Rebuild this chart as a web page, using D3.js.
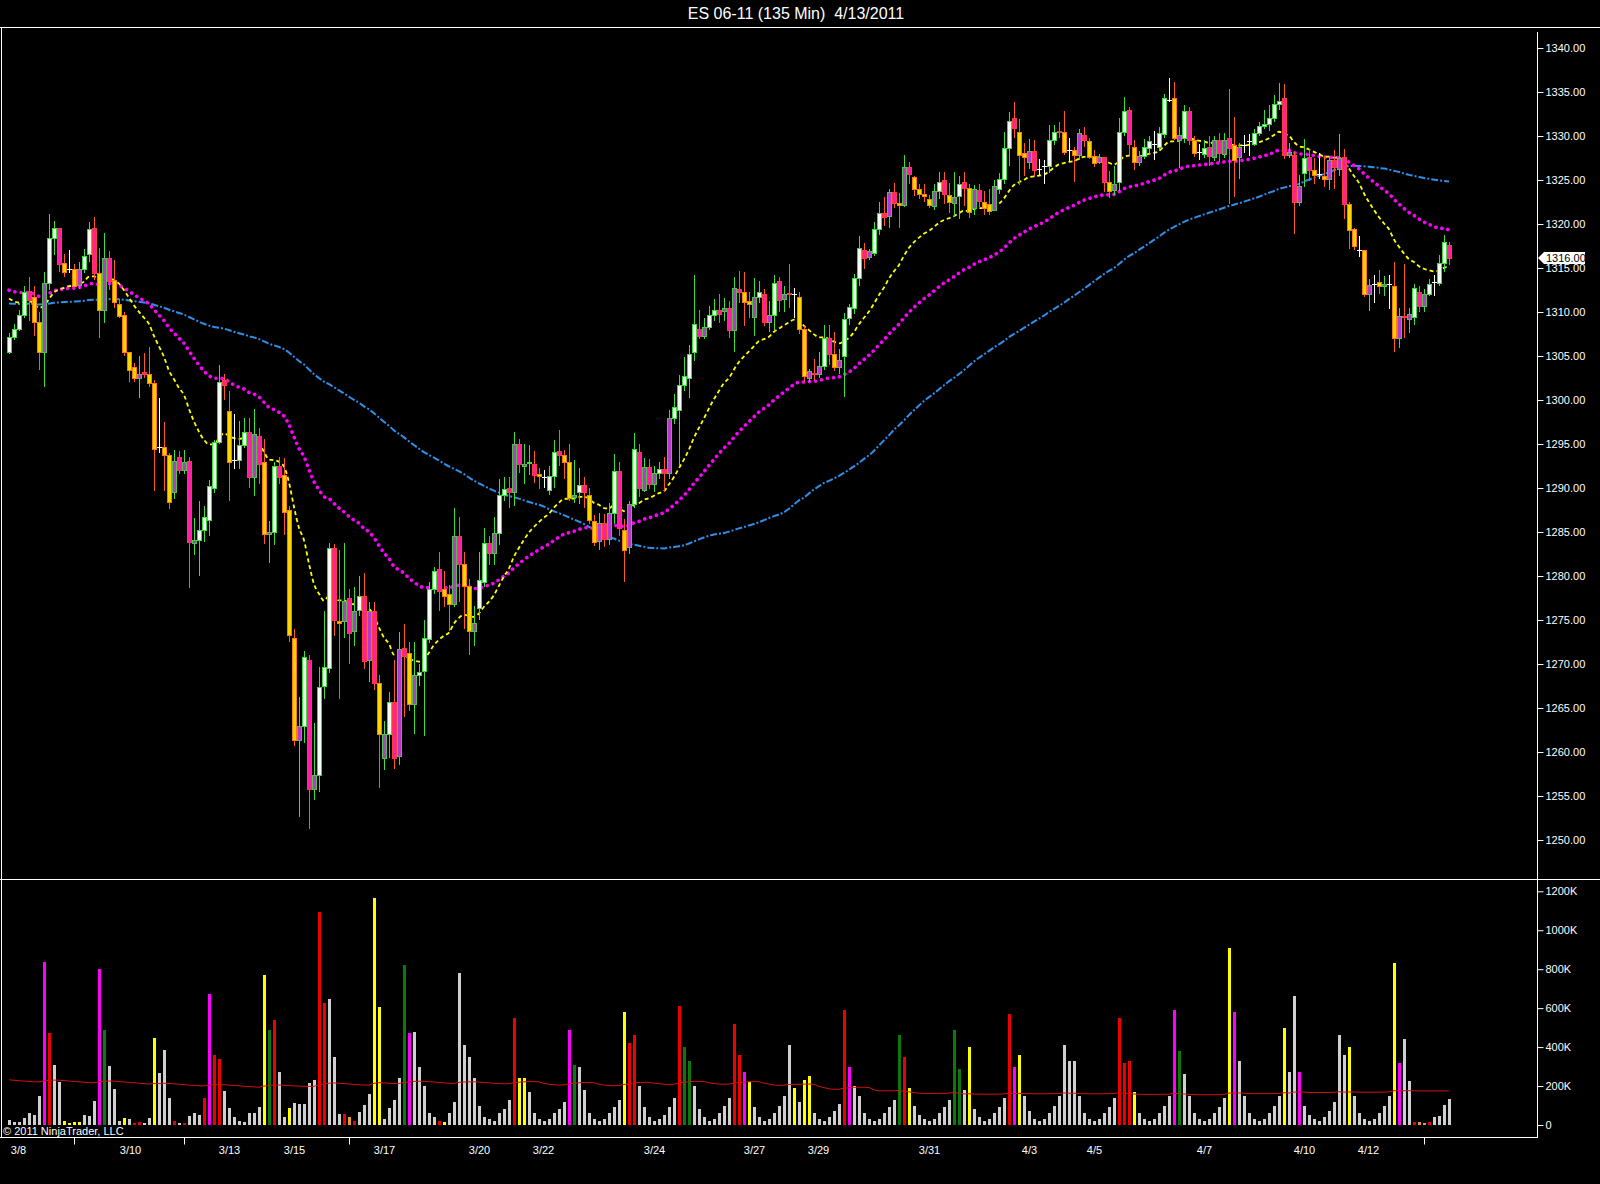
<!DOCTYPE html>
<html><head><meta charset="utf-8">
<script src="https://cdn.jsdelivr.net/npm/d3@7/dist/d3.min.js"></script>
<style>
html,body{margin:0;padding:0;background:#000;}
svg{display:block;}
text{font-family:"Liberation Sans",Arial,sans-serif;fill:#fff;}
</style></head><body>
<svg id="c" width="1600" height="1184"></svg>
<script>
const title = "ES 06-11 (135 Min)  4/13/2011";
const opens = [1305.5,1307.2,1308.1,1309.7,1312.4,1311.7,1308.9,1305.5,1313.3,1318.4,1319.6,1315.6,1314.9,1314.9,1313.1,1314.9,1316.6,1319.6,1314.4,1310.2,1316.1,1313.6,1310.9,1309.7,1305.4,1303.7,1302.5,1303.2,1303.0,1301.9,1294.7,1294.7,1293.7,1289.5,1293.5,1292.0,1293.1,1283.7,1284.1,1285.2,1286.4,1290.0,1295.2,1302.3,1298.7,1293.2,1293.2,1294.9,1296.4,1291.3,1295.9,1292.9,1284.8,1285.0,1292.5,1291.5,1287.5,1273.0,1261.4,1262.9,1270.5,1255.8,1257.4,1267.5,1269.5,1283.2,1274.9,1274.9,1277.5,1273.7,1276.1,1277.7,1270.4,1276.0,1267.8,1259.3,1262.0,1265.7,1259.5,1271.8,1271.2,1265.5,1268.7,1269.2,1272.8,1278.5,1280.8,1278.5,1278.0,1276.8,1284.5,1281.4,1278.9,1273.7,1276.4,1279.3,1283.7,1282.6,1284.9,1289.2,1290.0,1289.5,1295.0,1292.5,1292.8,1292.7,1291.6,1291.3,1289.8,1291.4,1294.2,1293.8,1292.9,1289.0,1289.6,1290.3,1289.2,1286.2,1284.0,1286.0,1284.2,1287.2,1291.9,1285.2,1283.3,1288.2,1294.1,1289.8,1292.4,1290.5,1291.7,1292.2,1291.7,1297.9,1298.9,1301.7,1302.5,1305.4,1308.1,1307.3,1308.3,1309.7,1310.2,1310.1,1310.4,1308.0,1312.6,1312.3,1311.2,1309.4,1311.7,1312.1,1308.9,1309.7,1313.5,1311.5,1312.2,1312.0,1311.7,1308.1,1302.5,1303.1,1303.0,1303.9,1307.1,1305.2,1303.7,1305.0,1309.3,1310.4,1313.9,1317.1,1316.3,1316.7,1319.4,1321.3,1320.9,1323.6,1322.4,1322.2,1326.5,1325.3,1324.0,1323.4,1322.8,1322.1,1323.8,1325.0,1323.3,1322.4,1323.2,1324.8,1324.1,1321.8,1323.9,1322.5,1322.3,1321.6,1324.0,1325.1,1328.6,1332.1,1330.5,1328.1,1327.1,1328.3,1326.3,1326.6,1326.6,1329.6,1330.6,1330.5,1328.4,1328.4,1327.8,1330.1,1329.4,1327.7,1327.0,1327.6,1324.8,1323.9,1324.8,1330.5,1332.9,1328.8,1327.1,1327.7,1328.6,1329.1,1328.8,1330.2,1334.1,1334.3,1329.5,1329.8,1332.8,1329.5,1328.2,1327.9,1328.8,1327.6,1329.5,1328.0,1329.8,1329.0,1327.6,1329.0,1329.4,1329.1,1330.3,1331.1,1331.4,1332.1,1333.6,1334.3,1327.8,1327.8,1322.5,1325.8,1327.6,1326.1,1325.7,1325.4,1325.1,1327.3,1326.3,1327.6,1322.3,1319.4,1317.1,1317.1,1312.1,1313.2,1313.4,1313.0,1313.2,1312.9,1307.1,1309.6,1309.2,1309.4,1312.3,1310.7,1312.1,1313.4,1313.3,1315.6,1317.6];
const highs = [1307.6,1308.6,1310.2,1312.9,1314.0,1313.0,1310.0,1314.5,1321.1,1320.3,1319.6,1316.6,1317.0,1315.5,1315.7,1317.2,1320.2,1320.8,1317.3,1319.0,1316.9,1315.9,1311.5,1310.0,1305.4,1304.2,1305.0,1305.3,1306.0,1302.3,1300.2,1297.5,1294.0,1294.3,1294.2,1294.3,1293.5,1286.6,1288.5,1288.0,1290.9,1295.5,1304.0,1302.9,1301.0,1298.4,1297.6,1298.0,1297.9,1299.0,1296.8,1295.6,1286.2,1292.9,1293.5,1293.4,1288.0,1274.0,1266.2,1271.5,1271.0,1263.3,1269.7,1276.0,1283.8,1283.6,1283.0,1283.8,1278.5,1278.7,1280.0,1280.3,1277.0,1277.0,1268.8,1263.5,1266.8,1270.5,1273.6,1274.6,1272.5,1272.5,1270.0,1275.0,1279.3,1281.0,1282.7,1280.6,1279.0,1287.7,1286.7,1282.7,1279.7,1276.6,1282.7,1285.5,1284.5,1286.7,1291.0,1291.3,1291.2,1296.4,1295.6,1295.0,1294.9,1294.2,1292.3,1292.0,1292.5,1295.4,1296.6,1294.3,1295.0,1293.2,1292.3,1291.3,1290.0,1286.9,1287.2,1287.0,1288.3,1293.9,1293.0,1286.5,1288.5,1296.2,1295.0,1293.4,1293.3,1292.5,1293.0,1293.5,1298.9,1300.7,1302.8,1304.9,1306.2,1314.2,1310.2,1309.3,1310.7,1311.5,1312.0,1311.6,1311.2,1314.0,1314.7,1314.5,1312.3,1313.9,1313.5,1312.6,1311.2,1314.2,1314.0,1313.0,1315.4,1312.7,1312.3,1308.4,1303.5,1304.7,1305.5,1308.5,1308.5,1307.7,1305.8,1309.9,1310.9,1314.3,1318.6,1317.8,1317.2,1320.2,1322.5,1323.1,1324.0,1324.7,1323.5,1327.8,1327.0,1325.5,1324.6,1324.6,1323.3,1324.5,1325.9,1325.9,1324.7,1325.9,1325.5,1325.9,1324.5,1324.4,1324.5,1323.7,1324.0,1325.0,1325.8,1330.4,1332.7,1333.9,1331.9,1329.2,1329.7,1329.6,1327.4,1327.3,1331.2,1331.3,1331.6,1332.8,1329.8,1328.8,1330.8,1331.0,1329.8,1328.4,1328.0,1327.6,1326.0,1326.6,1332.1,1334.4,1333.3,1329.6,1328.3,1329.7,1330.0,1330.6,1331.0,1334.8,1336.6,1336.1,1331.0,1333.5,1333.3,1330.0,1329.1,1329.5,1330.0,1330.0,1330.3,1330.3,1335.3,1332.2,1329.2,1330.1,1330.2,1330.8,1331.6,1333.0,1333.5,1334.7,1336.0,1335.9,1329.2,1328.2,1325.6,1329.7,1328.5,1327.5,1328.1,1327.7,1327.7,1328.4,1330.2,1328.5,1322.5,1319.5,1318.6,1317.1,1313.7,1314.2,1314.8,1314.1,1314.2,1315.7,1310.5,1315.5,1310.5,1313.2,1313.0,1312.6,1313.7,1314.2,1316.5,1318.8,1318.0];
const lows = [1305.2,1306.8,1307.8,1309.3,1309.0,1307.3,1303.4,1301.5,1312.5,1316.5,1314.5,1314.0,1314.4,1312.8,1312.6,1314.4,1315.7,1313.6,1307.0,1308.7,1312.5,1310.5,1309.3,1305.0,1302.0,1302.0,1300.2,1302.5,1301.5,1289.7,1294.0,1289.7,1287.6,1288.7,1291.6,1291.6,1278.6,1282.4,1280.0,1283.9,1284.5,1289.4,1295.0,1300.0,1288.5,1292.2,1292.2,1294.5,1290.0,1289.1,1290.4,1283.6,1281.5,1283.5,1290.5,1284.7,1272.5,1260.7,1252.6,1261.0,1251.2,1254.5,1255.5,1266.0,1269.0,1273.2,1266.0,1273.0,1270.0,1272.0,1275.5,1269.4,1268.0,1267.0,1255.9,1257.9,1259.3,1258.1,1258.5,1264.0,1264.7,1262.0,1267.5,1261.8,1272.4,1278.0,1276.0,1276.5,1273.8,1276.5,1277.0,1274.0,1271.0,1272.0,1275.0,1278.8,1281.3,1281.2,1283.5,1288.5,1287.7,1288.0,1291.7,1290.5,1291.5,1290.6,1289.9,1290.0,1289.2,1290.0,1292.5,1291.0,1288.5,1288.3,1288.2,1287.7,1285.9,1283.4,1283.0,1283.3,1283.5,1285.9,1284.5,1279.3,1282.5,1287.7,1289.0,1289.5,1289.9,1289.5,1291.0,1289.6,1291.0,1297.3,1292.5,1301.0,1300.2,1304.4,1306.9,1306.9,1308.0,1309.0,1308.8,1309.0,1307.1,1305.5,1311.0,1308.4,1309.3,1307.3,1311.0,1308.4,1307.7,1307.9,1310.0,1310.0,1310.5,1309.3,1307.5,1302.0,1302.0,1302.3,1302.5,1303.4,1304.0,1303.3,1303.0,1300.3,1308.5,1309.8,1313.0,1314.9,1315.9,1316.4,1318.8,1319.8,1319.6,1321.8,1319.6,1321.9,1324.5,1323.2,1322.8,1322.5,1321.8,1321.6,1322.8,1322.3,1321.3,1320.8,1320.6,1322.0,1320.7,1321.0,1321.9,1321.0,1321.0,1321.5,1323.4,1324.6,1326.6,1329.8,1324.4,1325.5,1326.3,1325.3,1325.5,1324.6,1325.8,1329.0,1329.8,1327.8,1327.1,1324.8,1327.3,1328.7,1327.4,1326.5,1326.8,1323.6,1323.0,1323.3,1323.8,1330.0,1327.8,1326.1,1326.6,1327.4,1328.0,1327.3,1328.3,1329.8,1333.9,1329.5,1326.4,1329.2,1329.0,1327.6,1327.3,1327.5,1326.6,1327.2,1327.0,1327.5,1322.3,1323.1,1325.1,1328.1,1327.7,1328.9,1330.0,1330.8,1330.6,1331.6,1333.0,1327.4,1327.5,1318.9,1322.0,1324.2,1324.9,1324.6,1325.1,1324.2,1323.9,1324.0,1325.5,1320.6,1317.2,1317.0,1316.3,1311.7,1310.1,1311.0,1312.0,1311.8,1310.3,1305.4,1305.9,1307.0,1307.6,1308.5,1310.0,1310.0,1311.8,1311.8,1313.0,1314.6,1315.3];
const closes = [1307.2,1308.1,1309.7,1312.3,1311.4,1308.9,1305.5,1313.3,1318.4,1319.6,1315.5,1314.6,1314.9,1313.0,1314.9,1316.4,1319.4,1314.4,1310.2,1316.1,1313.5,1311.1,1309.6,1305.4,1303.4,1302.5,1303.0,1303.0,1301.9,1294.4,1294.7,1293.7,1288.4,1293.1,1292.0,1292.9,1283.9,1284.1,1285.2,1286.7,1290.2,1295.2,1302.1,1301.7,1292.9,1293.2,1294.9,1296.4,1291.3,1296.1,1292.7,1284.8,1285.0,1292.5,1291.3,1287.3,1273.3,1261.4,1262.9,1270.8,1255.8,1257.4,1267.4,1269.7,1283.2,1275.0,1274.7,1277.2,1273.5,1276.0,1277.7,1270.3,1276.0,1267.8,1262.0,1262.1,1265.7,1259.3,1271.7,1270.9,1265.5,1268.7,1269.1,1273.0,1278.5,1280.6,1278.3,1277.7,1276.8,1284.5,1281.4,1278.9,1273.7,1274.7,1279.5,1283.7,1282.6,1284.9,1289.2,1289.9,1289.5,1295.0,1292.7,1292.7,1293.0,1291.5,1291.4,1291.4,1291.4,1294.1,1293.8,1292.9,1288.9,1289.2,1290.3,1289.6,1286.4,1283.9,1286.0,1284.2,1287.2,1291.9,1285.4,1283.0,1288.2,1294.4,1290.0,1292.4,1290.5,1291.7,1292.2,1291.7,1297.9,1299.2,1301.7,1302.7,1305.2,1308.6,1307.3,1308.3,1309.7,1310.2,1309.8,1310.4,1308.0,1312.7,1312.3,1311.1,1310.9,1311.7,1312.3,1308.9,1309.7,1313.3,1311.4,1312.1,1312.0,1312.0,1308.1,1302.7,1303.3,1302.9,1303.9,1307.1,1305.2,1303.7,1304.6,1309.2,1310.6,1313.9,1317.3,1316.1,1316.9,1319.4,1321.3,1320.8,1323.6,1322.4,1322.2,1326.5,1325.7,1324.0,1323.4,1323.2,1322.2,1323.8,1324.8,1323.4,1322.5,1323.1,1324.5,1324.1,1321.4,1324.0,1322.6,1321.8,1321.5,1324.3,1325.1,1328.6,1331.7,1330.9,1327.8,1327.6,1328.3,1326.1,1326.4,1326.6,1329.5,1330.5,1330.4,1328.2,1328.4,1327.8,1330.3,1329.5,1327.6,1326.9,1327.6,1324.8,1323.8,1324.6,1330.5,1332.8,1329.1,1327.0,1327.7,1328.8,1329.4,1329.1,1330.3,1334.3,1334.1,1329.8,1330.1,1332.8,1329.5,1328.1,1328.2,1328.6,1327.7,1329.5,1328.1,1329.5,1328.6,1327.3,1328.8,1329.0,1329.4,1330.3,1331.1,1331.4,1332.1,1333.6,1334.0,1327.8,1328.2,1322.5,1324.3,1327.5,1326.1,1325.6,1325.7,1325.1,1327.3,1326.5,1327.5,1322.3,1319.3,1317.5,1317.1,1312.1,1313.1,1313.2,1313.0,1313.2,1313.2,1307.1,1309.6,1309.4,1309.8,1312.7,1310.7,1312.1,1313.2,1313.4,1315.6,1317.9,1316.1];
const volumesK = [26,17,17,34,60,51,149,839,474,308,223,20,12,17,17,51,48,125,801,488,303,183,22,38,29,12,17,9,38,449,269,385,140,22,12,12,48,63,51,140,673,360,337,176,89,39,22,17,63,63,94,770,488,539,274,43,89,115,108,108,214,231,1096,625,647,351,55,56,43,22,68,103,159,1168,608,29,89,128,240,820,470,480,300,200,60,40,20,15,60,120,780,410,350,240,100,40,30,20,60,80,130,550,240,240,170,60,30,20,30,60,80,120,490,310,300,180,60,30,20,30,60,90,130,580,420,460,200,90,40,20,30,50,90,140,610,400,330,200,80,40,20,30,60,100,140,520,360,270,220,90,40,20,30,60,100,150,410,190,120,230,250,60,30,20,40,70,110,590,300,200,150,60,30,20,30,60,90,130,460,350,190,100,50,30,20,30,60,90,130,490,290,180,400,80,40,20,30,60,90,140,570,300,360,150,70,30,20,30,60,100,150,410,330,330,150,60,30,20,30,60,90,140,550,320,330,170,60,30,20,30,60,100,150,590,380,260,150,60,30,20,30,60,90,140,910,580,330,150,60,30,20,30,60,100,150,500,270,660,270,100,50,30,20,40,70,120,460,360,400,150,60,30,20,30,60,100,150,830,320,440,226,17,17,9,15,40,48,104,135];
const volumeClass = ("wwwwwwwmrwwyyyywwwmgwwwywrrwwywwwrwrwwwrmrrwwwwwwwwygrwwywwwwwrrwwwrorwwwyywwww" +
  "gmwwwwwryww" + "wwwwwwwwwww" + "ryywwwwwwww" + "mgwwwwwwwww" + "yrrwwwwwwww" + "rggwwwwwwww" +
  "rrmywwwwwww" + "wywyywwwwww" + "rmwwwwwwwww" + "grywwwwwwww" + "ggwywwwwwww" + "rmywwwwwwww" +
  "wwwwwwwwwww" + "rrrywwwwwww" + "mgwwwwwwwww" + "ymwwwwwwwww" + "ywwmwwwwwww" + "wwywwwwwwww" +
  "ymwwroorwwww").split("");
const priceTicks = [1250,1255,1260,1265,1270,1275,1280,1285,1290,1295,1300,1305,1310,1315,1320,1325,1330,1335,1340];
const volumeTicksK = [0,200,400,600,800,1000,1200];
const dateLabels = ["3/8","3/10","3/13","3/15","3/17","3/20","3/22","3/24","3/27","3/29","3/31","4/3","4/5","4/7","4/10","4/12"];
const dateLabelBars = [1.8,24.2,44,57,75,94,106.8,129,149,161.8,184,204,217,239,259,271.8];
const dateTickBars = [13,35,68,283];
const lastPrice = 1316.00;
// values of the averages before the first visible bar (history not on the chart)
const maSeeds = {fast:1312.0, mid:1312.7, slow:1311.0, vol:234};
const maPeriods = {fast:20, mid:50, slow:100, vol:100};

const N = closes.length;
const svg = d3.select("#c");
svg.append("rect").attr("width",1600).attr("height",1184).attr("fill","#000");

const x = d3.scaleLinear().domain([0, N-1]).range([9, 9 + 5*(N-1)]);
const y = d3.scaleLinear().domain([1250, 1340]).range([840, 48]);
const yv = d3.scaleLinear().domain([0, 1200]).range([1125, 891.3]);

function ema(vals, n, seed){ const a = 2/(n+1); let e = seed; return vals.map(v => (e = e + a*(v - e))); }
function sma(vals, n, seed){
  return vals.map((v,i) => { let s = 0; for (let j = i-n+1; j <= i; j++) s += (j < 0 ? seed : vals[j]); return s/n; });
}

// frame
const fr = svg.append("g").attr("stroke","#fff").attr("stroke-width",1).attr("shape-rendering","crispEdges");
fr.append("line").attr("x1",0).attr("x2",1600).attr("y1",27.5).attr("y2",27.5);
fr.append("line").attr("x1",1.5).attr("x2",1.5).attr("y1",27.5).attr("y2",1137.5);
fr.append("line").attr("x1",0).attr("x2",1600).attr("y1",879.5).attr("y2",879.5);
fr.append("line").attr("x1",0).attr("x2",1537.5).attr("y1",1137.5).attr("y2",1137.5);
fr.append("line").attr("x1",1537.5).attr("x2",1537.5).attr("y1",32).attr("y2",1137.5);

svg.append("text").attr("x",796).attr("y",19).attr("text-anchor","middle").attr("font-size",16)
  .style("white-space","pre").text(title);

svg.append("clipPath").attr("id","pc").append("rect").attr("x",2).attr("y",28).attr("width",1535).attr("height",851);

// moving averages
const maG = svg.append("g").attr("clip-path","url(#pc)").attr("fill","none");
const line = d3.line().x((d,i)=>x(i)).y(d=>y(d)).curve(d3.curveMonotoneX);
maG.append("path").attr("d", line(sma(closes, maPeriods.slow, maSeeds.slow)))
  .attr("stroke","#2f8fe8").attr("stroke-width",2).attr("stroke-dasharray","7,2,2,2");
maG.append("path").attr("d", line(ema(closes, maPeriods.mid, maSeeds.mid)))
  .attr("stroke","#ff00ff").attr("stroke-width",3.6).attr("stroke-linecap","round").attr("stroke-dasharray","0.1,6");
maG.append("path").attr("d", line(ema(closes, maPeriods.fast, maSeeds.fast)))
  .attr("stroke","#ffff00").attr("stroke-width",1.8).attr("stroke-dasharray","4,3");

// candles
const bars = d3.range(N).map(i => {
  const o = opens[i], c = closes[i];
  let kind;
  if (Math.abs(c - o) < 0.15) kind = "doji";
  else if (c > o) kind = (i > 0 && closes[i-1] < opens[i-1]) ? "upS" : "up";
  else kind = (i > 0 && closes[i-1] > opens[i-1]) ? "dnS" : "dn";
  return {i, o, h: highs[i], l: lows[i], c, kind};
});
const style = {
  up:  {fill:"#f2fff2", stroke:"#3adf3a", wick:"#3adf3a"},
  upS: {fill:"#b43cc8", stroke:"#4cc44c", wick:"#3adf3a"},
  dn:  {fill:"#ffd400", stroke:"#ff7a10", wick:"#ff5a1e"},
  dnS: {fill:"#ff1fa0", stroke:"#ff3a3a", wick:"#ff5a1e"},
  doji:{fill:"#fff", stroke:"#fff", wick:"#fff"}
};
const cg = svg.append("g").attr("shape-rendering","crispEdges");
const cs = cg.selectAll("g.c").data(bars).join("g");
cs.append("line").attr("x1",d=>Math.round(x(d.i))+0.5).attr("x2",d=>Math.round(x(d.i))+0.5)
  .attr("y1",d=>y(d.h)).attr("y2",d=>y(d.l)).attr("stroke",d=>style[d.kind].wick).attr("stroke-width",1);
cs.filter(d=>d.kind!=="doji").append("rect")
  .attr("x",d=>Math.round(x(d.i))-1.5).attr("width",4)
  .attr("y",d=>Math.round(y(Math.max(d.o,d.c)))+0.5)
  .attr("height",d=>Math.max(1, Math.round(y(Math.min(d.o,d.c))) - Math.round(y(Math.max(d.o,d.c)))))
  .attr("fill",d=>style[d.kind].fill).attr("stroke",d=>style[d.kind].stroke).attr("stroke-width",1);
cs.filter(d=>d.kind==="doji").append("line")
  .attr("x1",d=>Math.round(x(d.i))-2).attr("x2",d=>Math.round(x(d.i))+3)
  .attr("y1",d=>Math.round(y(d.o))+0.5).attr("y2",d=>Math.round(y(d.o))+0.5)
  .attr("stroke","#fff").attr("stroke-width",1);

// price axis
const pa = svg.append("g").attr("transform","translate(1537.5,0)")
  .call(d3.axisRight(y).tickValues(priceTicks).tickSize(6).tickPadding(2).tickFormat(d=>d.toFixed(2)));
pa.select(".domain").remove();
pa.selectAll("line").attr("stroke","#fff");
pa.selectAll("text").attr("fill","#fff").attr("font-size",11).attr("font-family","Liberation Sans, Arial, sans-serif");

// last price marker
const ly = Math.round(y(lastPrice)) - 1;
svg.append("path").attr("d",`M1538,${ly} L1544,${ly-6} L1585,${ly-6} L1585,${ly+6} L1544,${ly+6} Z`).attr("fill","#fff");
svg.append("text").attr("x",1546).attr("y",ly+4).attr("font-size",11).style("fill","#000").text(lastPrice.toFixed(2));

// volume
const vcol = {w:"#cfcfcf", r:"#ee0000", m:"#ff00ff", y:"#ffff00", g:"#0a7a0a", o:"#e89a30"};
svg.append("g").attr("shape-rendering","crispEdges").selectAll("rect").data(volumesK).join("rect")
  .attr("x",(d,i)=>Math.round(x(i))-1).attr("width",3)
  .attr("y",d=>yv(d)).attr("height",d=>yv(0)-yv(d))
  .attr("fill",(d,i)=>vcol[volumeClass[i]] || vcol.w);
const vline = d3.line().x((d,i)=>x(i)).y(d=>yv(d));
svg.append("path").attr("d", vline(sma(volumesK, maPeriods.vol, maSeeds.vol)))
  .attr("fill","none").attr("stroke","#d01010").attr("stroke-width",1);

const va = svg.append("g").attr("transform","translate(1537.5,0)")
  .call(d3.axisRight(yv).tickValues(volumeTicksK).tickSize(6).tickPadding(2).tickFormat(d=>d===0?"0":d+"K"));
va.select(".domain").remove();
va.selectAll("line").attr("stroke","#fff");
va.selectAll("text").attr("fill","#fff").attr("font-size",11).attr("font-family","Liberation Sans, Arial, sans-serif");

svg.append("text").attr("x",3).attr("y",1135).attr("font-size",11).text("\u00a9 2011 NinjaTrader, LLC");

// date axis
const dt = svg.append("g").attr("transform","translate(0,1137.5)")
  .call(d3.axisBottom(x).tickValues(dateTickBars).tickSize(7).tickFormat(""));
dt.select(".domain").remove();
dt.selectAll("line").attr("stroke","#fff");
const dl = svg.append("g").attr("transform","translate(0,1137.5)")
  .call(d3.axisBottom(x).tickValues(dateLabelBars).tickSize(0).tickPadding(9).tickFormat((d,i)=>dateLabels[i]));
dl.select(".domain").remove();
dl.selectAll("text").attr("fill","#fff").attr("font-size",11).attr("font-family","Liberation Sans, Arial, sans-serif");
</script></body></html>
